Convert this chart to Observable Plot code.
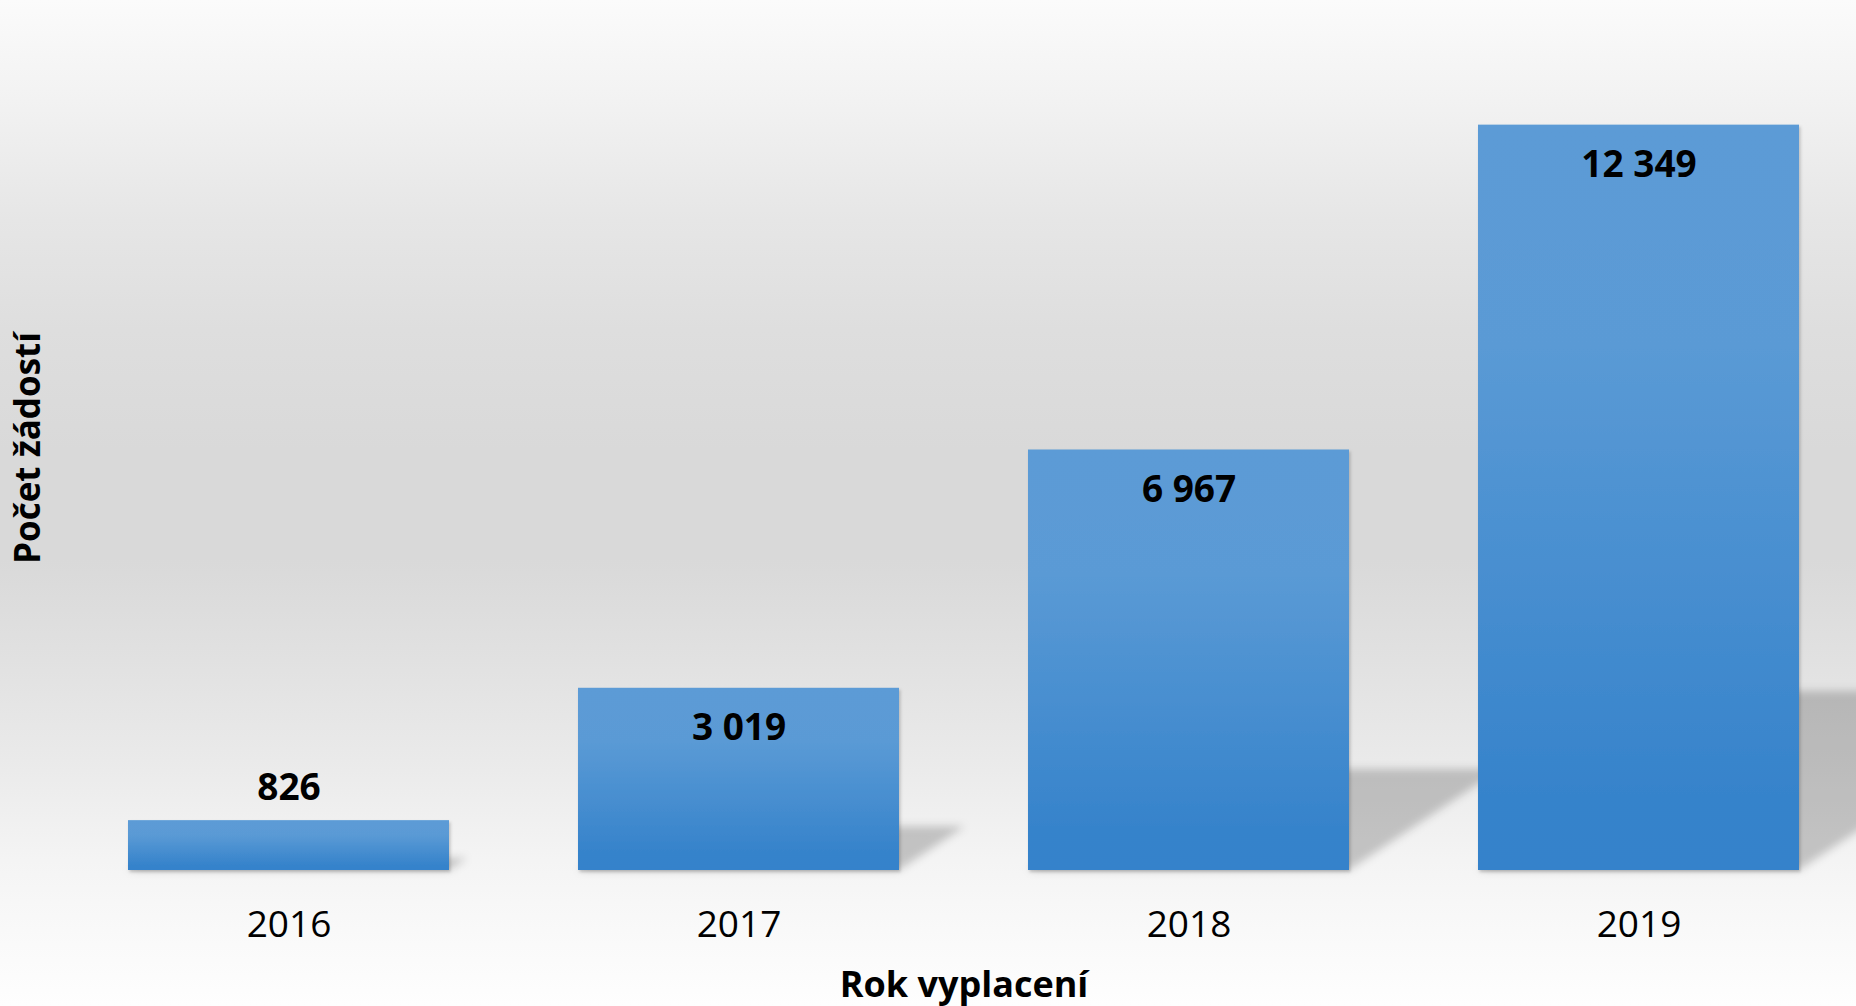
<!DOCTYPE html>
<html>
<head>
<meta charset="utf-8">
<script src="https://cdn.jsdelivr.net/npm/d3@7"></script>
<script src="https://cdn.jsdelivr.net/npm/@observablehq/plot@0.6"></script>
<style>
  html, body { margin: 0; padding: 0; overflow: hidden; }
  body {
    width: 1856px; height: 1006px;
    background: linear-gradient(to bottom,
      #fbfbfb 0px, #f2f2f2 100px, #e6e6e6 220px, #dedede 330px,
      #d9d9d9 450px, #d9d9d9 560px, #e1e1e1 660px, #eaeaea 760px,
      #f4f4f4 860px, #f9f9f9 930px, #fefefe 1006px);
  }
</style>
</head>
<body>
<div id="chart"></div>
<script>
const years = ["2016", "2017", "2018", "2019"];
const counts = [826, 3019, 6967, 12349];
const xTitle = "Rok vyplacení";
const yTitle = "Počet žádostí";

const data = years.map((year, i) => ({year, count: counts[i]}));
const fmt = d3.formatLocale({decimal: ",", thousands: " ", grouping: [3], currency: ["", ""]}).format(",d");
const font = "'Open Sans', 'Noto Sans', sans-serif";

const plot = Plot.plot({
  width: 1856,
  height: 1006,
  marginTop: 25,
  marginBottom: 136,
  marginLeft: 83,
  marginRight: 12,
  x: {domain: years, paddingInner: 0.287, paddingOuter: 0.1, label: null, tickSize: 0, tickPadding: 40},
  y: {domain: [0, 14000], axis: null},
  style: {background: "transparent", fontFamily: font, fontSize: "37px", color: "#000", overflow: "visible"},
  marks: [
    Plot.barY(data, {x: "year", y: "count", fill: "#000", fillOpacity: 0.2}),
    Plot.barY(data, {x: "year", y: "count", fill: "url(#barGrad)"}),
    Plot.text(data.filter(d => d.count >= 1500), {
      x: "year", y: "count", text: d => fmt(d.count), dy: 40, lineAnchor: "middle",
      fontWeight: "bold", fontSize: 37, fill: "#000"
    }),
    Plot.text(data.filter(d => d.count < 1500), {
      x: "year", y: "count", text: d => fmt(d.count), dy: -32, lineAnchor: "middle",
      fontWeight: "bold", fontSize: 37, fill: "#000"
    }),
    Plot.text([xTitle], {text: d => d, frameAnchor: "bottom", dy: 115, lineAnchor: "middle",
      textAnchor: "middle", fontWeight: "bold", fontSize: 36, fill: "#000"}),
    Plot.text([yTitle], {text: d => d, frameAnchor: "left", dx: -55, rotate: -90, lineAnchor: "middle",
      textAnchor: "middle", fontWeight: "bold", fontSize: 35, fill: "#000"})
  ]
});

document.getElementById("chart").appendChild(plot);

const svg = d3.select(plot);
const defs = svg.insert("defs", ":first-child");
const grad = defs.append("linearGradient").attr("id", "barGrad")
  .attr("x1", 0).attr("y1", 0).attr("x2", 0).attr("y2", 1);
grad.append("stop").attr("offset", "0").attr("stop-color", "#5c9bd6");
grad.append("stop").attr("offset", "0.3").attr("stop-color", "#5a9ad5");
grad.append("stop").attr("offset", "0.9").attr("stop-color", "#3683cb");
grad.append("stop").attr("offset", "1").attr("stop-color", "#3582cb");

const blur = defs.append("filter").attr("id", "shadowBlur")
  .attr("x", "-20%").attr("y", "-20%").attr("width", "140%").attr("height", "140%");
blur.append("feGaussianBlur").attr("stdDeviation", 4);

const drop = defs.append("filter").attr("id", "barDrop")
  .attr("x", "-5%").attr("y", "-5%").attr("width", "110%").attr("height", "110%");
drop.append("feDropShadow").attr("dx", 1.5).attr("dy", 2).attr("stdDeviation", 1.5)
  .attr("flood-color", "#000").attr("flood-opacity", 0.2);

// perspective shadow: squash vertically and skew right around the baseline, then blur
let base = 870;
try { const b = plot.scale("y").apply(0); if (isFinite(b)) base = b; } catch (e) {}
const s = 0.24, k = 1.5;
const barGroups = plot.querySelectorAll('g[aria-label="bar"]');
if (barGroups.length >= 2) {
  const shadowNode = barGroups[0];
  const outer = document.createElementNS("http://www.w3.org/2000/svg", "g");
  outer.setAttribute("filter", "url(#shadowBlur)");
  const skew = document.createElementNS("http://www.w3.org/2000/svg", "g");
  skew.setAttribute("transform", `matrix(1,0,${-k * s},${s},${k * s * base},${(1 - s) * base})`);
  outer.appendChild(skew);
  shadowNode.parentNode.insertBefore(outer, shadowNode);
  skew.appendChild(shadowNode);
  barGroups[1].setAttribute("filter", "url(#barDrop)");
}
</script>
</body>
</html>
